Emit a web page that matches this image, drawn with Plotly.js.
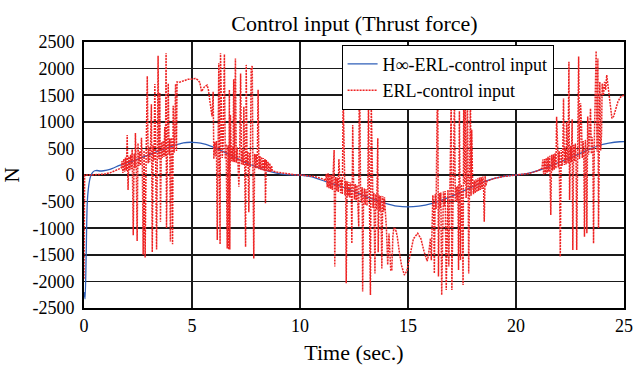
<!DOCTYPE html>
<html>
<head>
<meta charset="utf-8">
<script src="https://cdn.plot.ly/plotly-3.0.1.min.js"></script>
<style>html,body{margin:0;padding:0;background:#fff;}#chart{width:633px;height:365px;}</style>
</head>
<body>
<div id="chart"></div>
<script>
// ---- H-infinity ERL control input (blue) ----
const blueT = [0, 0.05, 0.1, 0.15, 0.22, 0.3, 0.4, 0.5, 0.6, 0.75, 0.9, 1.2, 1.64, 2.0, 2.5, 3.0, 3.5, 4.0, 4.3, 4.6, 5.0, 5.4, 5.93, 6.5, 7.0, 7.5, 8.0, 8.63, 9.1, 9.6, 10.0, 10.5, 11.2, 11.8, 12.5, 13.0, 13.5, 13.96, 14.5, 15.0, 15.5, 16.12, 16.5, 17.0, 17.5, 18.0, 18.5, 19.0, 19.5, 20.0, 20.5, 21.0, 21.5, 22.0, 22.5, 23.0, 23.5, 23.9, 24.3, 24.8, 25.0];
const blueV = [-2200, -2330, -1500, -530, -200, -30, 50, 80, 85, 75, 80, 105, 180, 230, 300, 380, 460, 530, 570, 605, 615, 600, 535, 430, 330, 230, 150, 62, 22, 5, 0, -30, -125, -200, -310, -400, -470, -532, -585, -600, -585, -532, -480, -400, -310, -220, -130, -62, -20, 0, 25, 80, 160, 240, 320, 410, 500, 564, 600, 625, 627];

// ---- ERL control input (red), by segment ----
const redStartT = [0, 0.03, 0.3, 0.6, 0.9, 1.2, 1.5];
const redStartV = [-1950, 0, 0, 5, 15, 40, 90];

const burst1T = [1.72, 1.76, 1.80, 1.84, 1.88, 1.92, 1.96, 2.00, 2.04, 2.08, 2.12, 2.16, 2.20, 2.23, 2.28, 2.32, 2.36, 2.38, 2.42, 2.46, 2.50, 2.54, 2.58, 2.62, 2.66, 2.70, 2.74, 2.78, 2.83, 2.88, 2.93, 2.97, 3.00, 3.04, 3.08, 3.12, 3.16, 3.20, 3.24, 3.28, 3.32, 3.36, 3.40, 3.43, 3.47, 3.51, 3.54, 3.58, 3.62, 3.66, 3.70, 3.74, 3.77, 3.80, 3.82, 3.86, 3.90, 3.94, 3.97, 4.00, 4.04, 4.08, 4.10, 4.13, 4.17, 4.20, 4.24, 4.28, 4.31];
const burst1V = [130, 260, 40, 300, 60, 330, 80, 750, -280, 350, 90, 380, 110, 480, -1130, 400, 130, 790, 150, -1240, 600, 170, 440, 180, 700, 190, -1500, 460, -1550, 480, 1860, 220, 520, 240, 540, 1330, -1450, 560, 270, 1710, 290, -1400, 600, 2240, 300, 1540, -880, 620, 320, 640, 340, 900, 350, 2290, -1000, 660, 1720, 380, 680, -1250, 700, 400, -1300, 1300, 420, 710, 1710, 450, 1750];

const smooth1T = [4.40, 4.47, 4.60, 4.70, 4.82, 4.93, 5.05, 5.16, 5.26, 5.36, 5.44, 5.52, 5.58, 5.70, 5.76, 5.82, 5.88, 5.93];
const smooth1V = [1740, 1750, 1770, 1785, 1800, 1800, 1810, 1815, 1790, 1740, 1570, 1620, 1660, 1690, 1600, 1410, 1250, 1100];

const burst2T = [5.98, 6.01, 6.05, 6.09, 6.13, 6.17, 6.21, 6.24, 6.27, 6.30, 6.32, 6.36, 6.40, 6.44, 6.47, 6.50, 6.54, 6.58, 6.63, 6.67, 6.70, 6.73, 6.75, 6.78, 6.82, 6.86, 6.90, 6.93, 6.97, 7.01, 7.05, 7.09, 7.13, 7.17, 7.21, 7.25, 7.29, 7.33, 7.37, 7.40, 7.44, 7.48, 7.51, 7.55, 7.59, 7.63, 7.67, 7.70, 7.74, 7.79, 7.82, 7.86, 7.90, 7.94, 7.98, 8.02, 8.06, 8.10, 8.14, 8.18, 8.22, 8.26, 8.30, 8.34, 8.38, 8.40, 8.44, 8.48, 8.52, 8.56, 8.60, 8.64, 8.68, 8.72];
const burst2V = [1565, 300, 620, 350, 640, -1220, 620, 2100, 330, -1300, 2290, 580, 320, 600, 2255, 2270, 300, 580, -1380, 560, -1400, 1600, -1400, 1130, 260, 540, 250, 1800, 240, 2190, 230, 520, 220, -220, 500, 1910, 200, 480, 190, 1285, 180, -1350, 2070, 170, 440, -700, 420, 150, 2000, 2050, 140, -1570, 400, 130, 390, 120, 1600, 110, 360, 100, 340, 90, 320, 80, 300, -530, 280, 70, 250, 60, 220, 60, 180, 80];

const smooth2T = [8.9, 9.2, 9.5, 9.8, 10.0, 10.3, 10.6, 10.9, 11.1];
const smooth2V = [55, 35, 15, 3, 0, -10, -25, -55, -80];

const burst3T = [11.18, 11.22, 11.26, 11.30, 11.34, 11.38, 11.42, 11.46, 11.50, 11.54, 11.58, 11.61, 11.65, 11.69, 11.73, 11.77, 11.80, 11.84, 11.88, 11.92, 11.96, 12.00, 12.04, 12.08, 12.11, 12.14, 12.18, 12.22, 12.26, 12.30, 12.34, 12.38, 12.40, 12.44, 12.48, 12.52, 12.56, 12.60, 12.64, 12.68, 12.72, 12.74, 12.77, 12.80, 12.84, 12.88, 12.90, 12.94, 12.98, 13.02, 13.06, 13.10, 13.14, 13.17, 13.21, 13.26, 13.30, 13.34, 13.38, 13.42, 13.47, 13.51, 13.55, 13.60, 13.62, 13.66, 13.70, 13.74, 13.79, 13.83, 13.87, 13.91, 13.95, 14.00];
const burst3V = [-110, 20, -230, 30, -250, 10, -260, 0, -280, -20, 470, -1720, -40, -300, -50, -320, 300, -70, -340, -80, -360, 1540, -100, -380, -110, -2035, -120, -400, -130, -420, -140, -440, -1285, 940, -160, -460, -170, -480, -190, -500, -970, 1430, 1440, -210, -520, -230, -2190, -540, -250, -560, -270, -580, -290, 1380, -600, -2255, 1340, -320, -620, -340, -1850, -360, -650, 690, -1450, -380, -680, -390, -1755, -400, -690, -420, -700, -1000];

const wave3T = [14.06, 14.12, 14.20, 14.25, 14.30, 14.34, 14.42, 14.50, 14.60, 14.70, 14.83, 14.95, 15.10, 15.25, 15.45, 15.60, 15.75, 15.89, 15.95, 16.04, 16.08];
const wave3V = [-1690, -1100, -1785, -1800, -1150, -1003, -1010, -1150, -1450, -1700, -1880, -1800, -1500, -1200, -1096, -1200, -1450, -1620, -1500, -1190, -1600];

const burst4T = [16.12, 16.15, 16.19, 16.22, 16.26, 16.30, 16.35, 16.38, 16.41, 16.45, 16.49, 16.52, 16.56, 16.60, 16.64, 16.68, 16.72, 16.77, 16.81, 16.85, 16.89, 16.93, 16.97, 17.00, 17.03, 17.07, 17.11, 17.15, 17.19, 17.23, 17.27, 17.31, 17.34, 17.38, 17.43, 17.47, 17.51, 17.55, 17.58, 17.62, 17.65, 17.69, 17.72, 17.75, 17.79, 17.81, 17.85, 17.89, 17.92, 17.95, 17.99, 18.03, 18.07, 18.11, 18.15, 18.19, 18.23, 18.27, 18.31, 18.35, 18.39, 18.43, 18.47, 18.50, 18.53, 18.57, 18.61, 18.65];
const burst4V = [-600, -380, -650, -1850, -360, -640, 1315, 1330, -1910, -340, -620, -330, -2255, -600, -310, -590, -300, -2160, -570, -280, -1720, -550, -260, 1420, -2160, -530, -240, 1440, -510, -220, -490, -200, -1785, 1200, -1600, -180, -460, -2067, 1535, -170, 1540, -430, -150, 1560, -410, -1850, -130, 1535, -390, 850, -110, -360, -100, -340, -80, -320, -60, -300, -50, -280, -40, -260, -30, -240, -877, -20, -200, -120];

const smooth4T = [18.8, 19.0, 19.4, 19.8, 20.2, 20.6, 21.0];
const smooth4V = [-95, -65, -30, -8, 5, 30, 75];

const burst5T = [21.20, 21.24, 21.28, 21.32, 21.36, 21.40, 21.44, 21.48, 21.52, 21.56, 21.61, 21.65, 21.69, 21.73, 21.77, 21.81, 21.85, 21.88, 21.92, 21.96, 22.00, 22.05, 22.09, 22.13, 22.17, 22.20, 22.24, 22.28, 22.32, 22.34, 22.38, 22.41, 22.45, 22.48, 22.52, 22.56, 22.60, 22.63, 22.67, 22.71, 22.75, 22.78, 22.81, 22.85, 22.90, 22.94, 22.99, 23.03, 23.07, 23.11, 23.14, 23.17, 23.21, 23.25, 23.28, 23.32, 23.36, 23.40, 23.45, 23.49, 23.53, 23.56, 23.59, 23.63, 23.68, 23.71, 23.75, 23.79, 23.82, 23.85, 23.88, 23.92, 23.96, 23.99];
const burst5V = [130, 290, 10, 300, 20, 320, 40, 340, 60, 360, -752, 380, 80, 390, 100, 410, 120, 1096, 430, 140, 450, -1535, 470, 170, 490, 1440, 190, 510, 200, 1000, 530, 220, 2130, -470, 550, 240, 1050, -1410, 570, 260, 590, 280, -1410, 610, 2225, 300, 1350, 970, 320, 640, 340, -1160, 660, 360, -1096, 1100, 380, 690, 1250, 400, 710, 420, -1285, 730, 2320, 2330, 440, 2190, -1000, 750, 1750, 460, 770, 1720];

const endT = [24.05, 24.10, 24.15, 24.20, 24.25, 24.32, 24.38, 24.44, 24.52, 24.62, 24.72, 24.85, 25.0];
const endV = [1500, 1750, 1600, 1880, 1700, 1450, 1200, 1065, 1100, 1250, 1380, 1470, 1500];

const xTicks = [0, 5, 10, 15, 20, 25];
const yTicks = [-2500, -2000, -1500, -1000, -500, 0, 500, 1000, 1500, 2000, 2500];

const redT = [].concat(redStartT, burst1T, smooth1T, burst2T, smooth2T, burst3T, wave3T, burst4T, smooth4T, burst5T, endT);
const redV = [].concat(redStartV, burst1V, smooth1V, burst2V, smooth2V, burst3V, wave3V, burst4V, smooth4V, burst5V, endV);

const FONT = 'Liberation Serif';

const traces = [
  {x: blueT, y: blueV, type: 'scatter', mode: 'lines', name: 'H\u221E-ERL-control input',
   line: {color: '#2f5fb8', width: 1.3, shape: 'spline', smoothing: 0.6}},
  {x: redT, y: redV, type: 'scatter', mode: 'lines', name: 'ERL-control input',
   line: {color: '#ee2424', width: 1.5, dash: '2px,1px'}}
];

const layout = {
  width: 633, height: 365,
  margin: {l: 84, r: 9, t: 42, b: 57},
  paper_bgcolor: '#fff', plot_bgcolor: '#fff',
  font: {family: FONT, size: 17, color: '#000'},
  title: {text: 'Control input (Thrust force)', font: {family: FONT, size: 22, color: '#000'},
          x: 0.56, xanchor: 'center', y: 0.937, yanchor: 'middle', yref: 'container'},
  showlegend: true,
  legend: {x: 0.477, y: 0.99, xanchor: 'left', yanchor: 'top', bgcolor: '#fff',
           bordercolor: '#000', borderwidth: 1, font: {family: FONT, size: 18, color: '#000'},
           tracegroupgap: 0, itemwidth: 30},
  xaxis: {range: [0, 25], tickvals: xTicks, ticktext: xTicks.map(String), showgrid: true,
          gridcolor: '#1a1a1a', gridwidth: 1.5, zeroline: false, showline: true, mirror: true,
          linecolor: '#000', linewidth: 2, ticks: '', tickfont: {family: FONT, size: 18},
          title: {text: 'Time (sec.)', font: {family: FONT, size: 22}, standoff: 11}},
  yaxis: {range: [-2500, 2500], tickvals: yTicks, ticktext: yTicks.map(String), showgrid: true,
          gridcolor: '#1a1a1a', gridwidth: 1.5, zeroline: false, showline: true, mirror: true,
          linecolor: '#000', linewidth: 2, ticks: '', tickfont: {family: FONT, size: 18},
          ticklabelstandoff: 4,
          title: {text: 'N', font: {family: FONT, size: 21}, standoff: 10}}
};

Plotly.newPlot('chart', traces, layout, {staticPlot: true, displayModeBar: false});
</script>
</body>
</html>
